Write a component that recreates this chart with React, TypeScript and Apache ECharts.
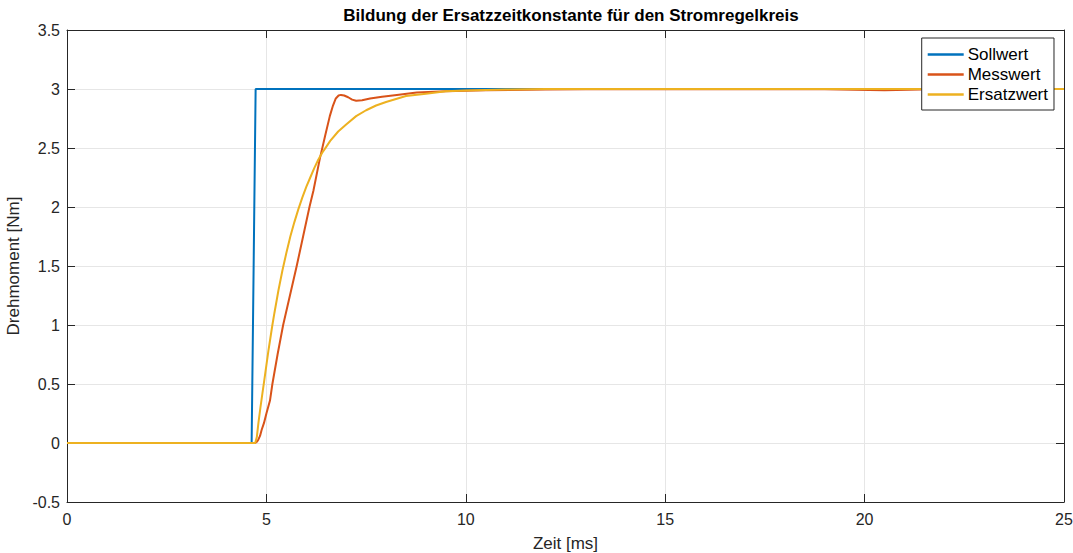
import React, { useEffect, useRef } from "react";
import * as echarts from "echarts";

// Zeitachse in ms, Drehmoment in Nm
const sollTime = [0, 4.63, 4.73, 25];
const sollValue = [0, 0, 3, 3];

const messTime = [0, 4.72, 4.76, 4.8, 4.84, 4.88, 4.94, 5.0, 5.09, 5.15, 5.28, 5.42, 5.59, 5.76, 5.92, 6.08, 6.18, 6.34, 6.47, 6.59, 6.67, 6.74, 6.81, 6.87, 6.95, 7.05, 7.15, 7.25, 7.4, 7.6, 7.9, 8.27, 8.77, 9.5, 10.5, 12, 14, 19, 20.5, 22, 25];
const messValue = [0, 0, 0.01, 0.03, 0.06, 0.11, 0.17, 0.25, 0.36, 0.5, 0.75, 1.0, 1.25, 1.5, 1.75, 2.0, 2.14, 2.41, 2.6, 2.77, 2.86, 2.92, 2.945, 2.95, 2.945, 2.93, 2.91, 2.9, 2.905, 2.92, 2.935, 2.95, 2.97, 2.98, 2.99, 2.995, 3.0, 2.998, 2.99, 3.0, 3.0];

const ersatzTime = [0, 4.72, 4.76, 4.8, 4.85, 4.9, 4.95, 5.0, 5.05, 5.1, 5.15, 5.2, 5.3, 5.4, 5.5, 5.6, 5.7, 5.8, 5.9, 6.0, 6.1, 6.2, 6.3, 6.4, 6.5, 6.6, 6.8, 7.0, 7.25, 7.5, 7.75, 8.0, 8.5, 9, 9.5, 10, 11, 12, 25];
const ersatzValue = [0, 0, 0.05, 0.17, 0.3, 0.42, 0.54, 0.66, 0.78, 0.89, 1.0, 1.1, 1.29, 1.46, 1.61, 1.75, 1.87, 1.98, 2.08, 2.17, 2.25, 2.33, 2.4, 2.46, 2.51, 2.56, 2.64, 2.7, 2.77, 2.82, 2.86, 2.89, 2.94, 2.96, 2.98, 2.987, 2.995, 3.0, 3.0];

const seriesNames = ["Sollwert", "Messwert", "Ersatzwert"];
const seriesColors = ["#0072BD", "#D95319", "#EDB120"];

const zip = (t: number[], v: number[]) => t.map((x, i) => [x, v[i]]);

const FONT = "'Liberation Sans', Arial, Helvetica, sans-serif";
const AXIS_COLOR = "#262626";

export default function App() {
  const ref = useRef<HTMLDivElement>(null);

  useEffect(() => {
    document.body.style.margin = "0";
    const chart = echarts.init(ref.current!, undefined, { renderer: "svg" });
    const tickLabel = { color: AXIS_COLOR, fontSize: 16, fontFamily: FONT };
    const xBase = {
      type: "value" as const,
      min: 0,
      max: 25,
      interval: 5,
      axisTick: { inside: true, length: 8, lineStyle: { color: AXIS_COLOR } },
      axisLine: { show: true, onZero: false, lineStyle: { color: AXIS_COLOR, width: 1 } },
    };
    const yBase = {
      type: "value" as const,
      min: -0.5,
      max: 3.5,
      interval: 0.5,
      axisTick: { inside: true, length: 8, lineStyle: { color: AXIS_COLOR } },
      axisLine: { show: true, onZero: false, lineStyle: { color: AXIS_COLOR, width: 1 } },
    };
    const data = [zip(sollTime, sollValue), zip(messTime, messValue), zip(ersatzTime, ersatzValue)];
    chart.setOption({
      animation: false,
      backgroundColor: "#ffffff",
      textStyle: { fontFamily: FONT },
      title: {
        text: "Bildung der Ersatzzeitkonstante für den Stromregelkreis",
        left: 566,
        textAlign: "center",
        top: 2,
        textStyle: { fontSize: 17, fontWeight: "bold", color: "#000", fontFamily: FONT },
      },
      grid: { left: 67, right: 9, top: 30, bottom: 51, show: false, outerBoundsMode: "none", containLabel: false },
      xAxis: [
        {
          ...xBase,
          position: "bottom",
          axisLabel: { ...tickLabel, margin: 9 },
          splitLine: { show: true, lineStyle: { color: "#e6e6e6", width: 1 } },
          name: "Zeit [ms]",
          nameLocation: "middle",
          nameGap: 33,
          nameTextStyle: { color: AXIS_COLOR, fontSize: 17, fontFamily: FONT },
        },
        {
          ...xBase,
          position: "top",
          axisLabel: { show: false },
          splitLine: { show: false },
        },
      ],
      yAxis: [
        {
          ...yBase,
          position: "left",
          axisLabel: { ...tickLabel, margin: 7 },
          splitLine: { show: true, lineStyle: { color: "#e6e6e6", width: 1 } },
          name: "Drehmoment [Nm]",
          nameLocation: "middle",
          nameGap: 35,
          nameTextStyle: { color: AXIS_COLOR, fontSize: 17, fontFamily: FONT },
        },
        {
          ...yBase,
          position: "right",
          axisLabel: { show: false },
          splitLine: { show: false },
        },
      ],
      legend: {
        orient: "vertical",
        right: 19,
        top: 38,
        z: 20,
        data: seriesNames,
        icon: "rect",
        backgroundColor: "#ffffff",
        borderColor: AXIS_COLOR,
        borderWidth: 1,
        borderRadius: 0,
        padding: [8, 6, 7, 6],
        itemWidth: 36,
        itemHeight: 2.5,
        itemGap: 3,
        textStyle: { fontSize: 17, color: "#000", fontFamily: FONT, padding: [0, 0, 0, -1] },
      },
      series: seriesNames.map((name, i) => ({
        name,
        type: "line",
        xAxisIndex: 0,
        yAxisIndex: 0,
        data: data[i],
        symbol: "none",
        showSymbol: false,
        lineStyle: { color: seriesColors[i], width: 2 },
        itemStyle: { color: seriesColors[i] },
        z: 2 + i,
      })),
    });
    return () => chart.dispose();
  }, []);

  return <div ref={ref} style={{ width: 1073, height: 553 }} />;
}
